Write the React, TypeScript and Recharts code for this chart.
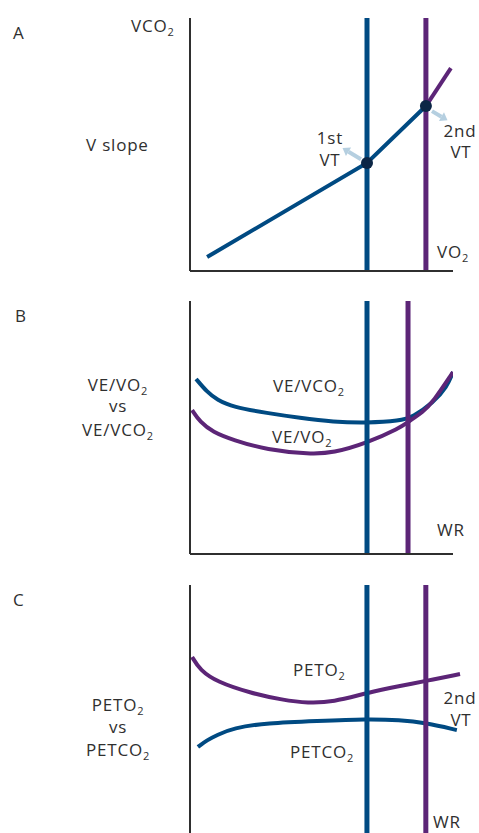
import { LineChart, Line, XAxis, YAxis, ReferenceLine, ReferenceDot } from 'recharts';

// Panel A: V-slope (VCO2 vs VO2), arbitrary 0-100 units
const vslopeX = [6.5, 67.3, 89.7, 99.2];
const vslopeBelowVT2 = [5.5, 42.7, 65.2, null];
const vslopeAboveVT2 = [null, null, 65.2, 80.2];
const thresholdsA = [67.3, 89.7];
const vtDotX = [67.3, 89.7];
const vtDotY = [42.7, 65.2];
const arrowFromX = [65.0, 92.0];
const arrowFromY = [44.2, 63.2];
const arrowToX = [58.0, 97.9];
const arrowToY = [48.6, 59.6];

// Panel B: ventilatory equivalents vs work rate
const veVco2X = [2.3, 6.5, 10.3, 16.3, 29.3, 41.8, 54.4, 67.3, 79.8, 84.8, 92.4, 97.7, 100];
const veVco2Y = [69.2, 64.0, 60.9, 58.1, 55.7, 53.8, 52.2, 51.8, 52.6, 54.2, 59.7, 66.0, 71.9];
const veVo2X = [0.8, 3.8, 8.7, 16.3, 29.3, 45.6, 54.4, 67.3, 79.8, 82.9, 88.6, 92.4, 100];
const veVo2Y = [56.9, 52.2, 48.2, 45.1, 41.1, 39.5, 39.9, 43.9, 49.8, 52.2, 56.1, 60.1, 71.9];
const thresholdsB = [67.3, 82.9];

// Panel C: end-tidal pressures vs work rate
const peto2X = [0.8, 3.8, 10.3, 22.8, 35.4, 44.9, 54.4, 67.3, 79.8, 89.7, 102.7];
const peto2Y = [71.0, 65.7, 60.9, 56.5, 53.6, 52.4, 52.8, 56.5, 59.3, 61.3, 64.1];
const petco2X = [3.0, 6.5, 10.3, 16.3, 29.3, 48.3, 67.3, 79.8, 89.7, 101.5];
const petco2Y = [34.7, 37.5, 39.5, 42.3, 44.4, 45.2, 46.0, 45.6, 44.4, 41.5];
const thresholdsC = [67.3, 89.7];

const BLUE = '#004a82';
const PURPLE = '#5c2577';
const DOT = '#0c2646';
const ARROW = '#b5cfe0';
const INK = '#2f2f2f';
const FONT = "'Open Sans', sans-serif";

const zip = (xs: number[], ys: (number | null)[]) => xs.map((x, i) => ({ x, y: ys[i] }));

const vslopeData = vslopeX.map((x, i) => ({ x, below: vslopeBelowVT2[i], above: vslopeAboveVT2[i] }));

const axisLine = { stroke: INK, strokeWidth: 2 };

function Arrow(p: any) {
  const { x1, y1, x2, y2 } = p;
  const a = Math.atan2(y2 - y1, x2 - x1);
  const len = 7;
  const w = 5;
  const bx = x2 - Math.cos(a) * len;
  const by = y2 - Math.sin(a) * len;
  const nx = -Math.sin(a) * w;
  const ny = Math.cos(a) * w;
  return (
    <g>
      <line x1={x1} y1={y1} x2={bx} y2={by} stroke={ARROW} strokeWidth={4} />
      <polygon points={`${x2},${y2} ${bx + nx},${by + ny} ${bx - nx},${by - ny}`} fill={ARROW} />
    </g>
  );
}

function T({ x, y, anchor = 'start', main, sub }: { x: number; y: number; anchor?: string; main: string; sub?: string }) {
  return (
    <text x={x} y={y} textAnchor={anchor} fontFamily={FONT} fontSize={17} letterSpacing={0.8} fill={INK}>
      {main}
      {sub && (
        <tspan fontSize={11} dy={4}>
          {sub}
        </tspan>
      )}
    </text>
  );
}

export default function App() {
  return (
    <div style={{ position: 'absolute', left: 0, top: 0, width: 479, height: 833, background: '#fff', overflow: 'hidden' }}>
      <div style={{ position: 'absolute', left: 0, top: 0 }}>
        <LineChart width={479} height={280} data={vslopeData} margin={{ top: 18, right: 26, bottom: 8, left: 189 }}>
          <XAxis type="number" dataKey="x" domain={[0, 100]} tick={false} tickLine={false} height={1} axisLine={axisLine} allowDataOverflow />
          <YAxis type="number" domain={[0, 100]} tick={false} tickLine={false} width={1} axisLine={axisLine} allowDataOverflow />
          <ReferenceLine x={thresholdsA[0]} stroke={BLUE} strokeWidth={5} />
          <ReferenceLine x={thresholdsA[1]} stroke={PURPLE} strokeWidth={5} />
          <Line type="linear" dataKey="below" stroke={BLUE} strokeWidth={4} dot={false} activeDot={false} isAnimationActive={false} />
          <Line type="linear" dataKey="above" stroke={PURPLE} strokeWidth={4} dot={false} activeDot={false} isAnimationActive={false} />
          {vtDotX.map((x, i) => (
            <ReferenceLine
              key={`arr${i}`}
              segment={[
                { x: arrowFromX[i], y: arrowFromY[i] },
                { x: arrowToX[i], y: arrowToY[i] },
              ]}
              shape={Arrow}
            />
          ))}
          {vtDotX.map((x, i) => (
            <ReferenceDot key={`dot${i}`} x={x} y={vtDotY[i]} r={6} fill={DOT} stroke="none" />
          ))}
        </LineChart>
      </div>

      <div style={{ position: 'absolute', left: 0, top: 280 }}>
        <LineChart width={479} height={280} margin={{ top: 21, right: 26, bottom: 5, left: 189 }}>
          <XAxis type="number" dataKey="x" domain={[0, 100]} tick={false} tickLine={false} height={1} axisLine={axisLine} allowDataOverflow />
          <YAxis type="number" dataKey="y" domain={[0, 100]} tick={false} tickLine={false} width={1} axisLine={axisLine} allowDataOverflow />
          <Line data={zip(veVco2X, veVco2Y)} type="basis" dataKey="y" stroke={BLUE} strokeWidth={4} dot={false} activeDot={false} isAnimationActive={false} />
          <Line data={zip(veVo2X, veVo2Y)} type="basis" dataKey="y" stroke={PURPLE} strokeWidth={4} dot={false} activeDot={false} isAnimationActive={false} />
          <ReferenceLine x={thresholdsB[0]} stroke={BLUE} strokeWidth={5} />
          <ReferenceLine x={thresholdsB[1]} stroke={PURPLE} strokeWidth={5} />
        </LineChart>
      </div>

      <div style={{ position: 'absolute', left: 0, top: 560 }}>
        <LineChart width={479} height={273} margin={{ top: 25, right: 9, bottom: 0, left: 189 }}>
          <XAxis type="number" dataKey="x" domain={[0, 106.5]} hide allowDataOverflow />
          <YAxis type="number" dataKey="y" domain={[0, 100]} tick={false} tickLine={false} width={1} axisLine={axisLine} allowDataOverflow />
          <Line data={zip(peto2X, peto2Y)} type="basis" dataKey="y" stroke={PURPLE} strokeWidth={4} dot={false} activeDot={false} isAnimationActive={false} />
          <Line data={zip(petco2X, petco2Y)} type="basis" dataKey="y" stroke={BLUE} strokeWidth={4} dot={false} activeDot={false} isAnimationActive={false} />
          <ReferenceLine x={thresholdsC[0]} stroke={BLUE} strokeWidth={5} />
          <ReferenceLine x={thresholdsC[1]} stroke={PURPLE} strokeWidth={5} />
        </LineChart>
      </div>

      <svg width={479} height={833} style={{ position: 'absolute', left: 0, top: 0, pointerEvents: 'none' }}>
        <T x={13} y={39} main="A" />
        <T x={131} y={32} main="VCO" sub="2" />
        <T x={86} y={151} main="V slope" />
        <T x={330} y={144} anchor="middle" main="1st" />
        <T x={330} y={166} anchor="middle" main="VT" />
        <T x={460} y={137} anchor="middle" main="2nd" />
        <T x={461} y={158} anchor="middle" main="VT" />
        <T x={437} y={258} main="VO" sub="2" />

        <T x={15} y={322} main="B" />
        <T x={118} y={391} anchor="middle" main="VE/VO" sub="2" />
        <T x={118} y={412} anchor="middle" main="vs" />
        <T x={118} y={436} anchor="middle" main="VE/VCO" sub="2" />
        <T x={273} y={392} main="VE/VCO" sub="2" />
        <T x={272} y={443} main="VE/VO" sub="2" />
        <T x={437} y={536} main="WR" />

        <T x={13} y={606} main="C" />
        <T x={118} y={711} anchor="middle" main="PETO" sub="2" />
        <T x={118} y={733} anchor="middle" main="vs" />
        <T x={118} y={756} anchor="middle" main="PETCO" sub="2" />
        <T x={293} y={676} main="PETO" sub="2" />
        <T x={290} y={758} main="PETCO" sub="2" />
        <T x={460} y={704} anchor="middle" main="2nd" />
        <T x={461} y={726} anchor="middle" main="VT" />
        <T x={433} y={828} main="WR" />
      </svg>
    </div>
  );
}
